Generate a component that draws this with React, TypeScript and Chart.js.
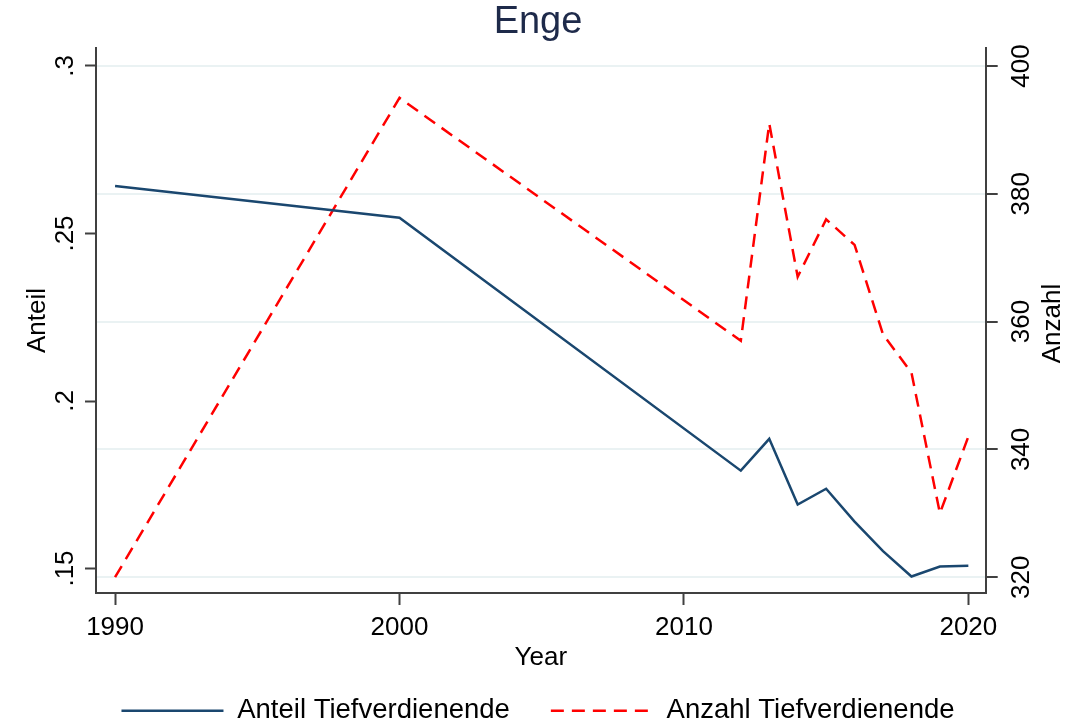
import { useEffect, useRef } from 'react';
import { Chart, registerables } from 'chart.js';

Chart.register(...registerables);

const chartTitle = 'Enge';
const xTitle = 'Year';
const leftTitle = 'Anteil';
const rightTitle = 'Anzahl';
const seriesNames = ['Anteil Tiefverdienende', 'Anzahl Tiefverdienende'];

const years = [1990, 2000, 2012, 2013, 2014, 2015, 2016, 2017, 2018, 2019, 2020];
const anteil = [0.2642, 0.2547, 0.1792, 0.1887, 0.1691, 0.1738, 0.164, 0.1552, 0.1476, 0.1506, 0.1508];
const anzahl = [320, 395, 357, 391, 367, 376, 372, 358, 352, 330, 342];

const xTicks = [1990, 2000, 2010, 2020];
const leftTicks = [0.15, 0.2, 0.25, 0.3];
const leftTickLabels = ['.15', '.2', '.25', '.3'];
const rightTicks = [320, 340, 360, 380, 400];

const FONT = "'Liberation Sans', Arial, sans-serif";
const AXIS = '#404040';

const rightTitlePlugin = {
  id: 'rightTitle',
  afterDraw(chart: any) {
    const { ctx, chartArea } = chart;
    const s = chart.scales.y2;
    ctx.save();
    ctx.translate(s.left + 67, (chartArea.top + chartArea.bottom) / 2 + 3);
    ctx.rotate(-Math.PI / 2);
    ctx.font = `26px ${FONT}`;
    ctx.fillStyle = '#000';
    ctx.textAlign = 'center';
    ctx.textBaseline = 'middle';
    ctx.fillText(rightTitle, 0, 0);
    ctx.restore();
  },
};

export default function App() {
  const ref = useRef<HTMLCanvasElement | null>(null);

  useEffect(() => {
    document.body.style.margin = '0';
    document.body.style.overflow = 'hidden';
    const canvas = ref.current;
    if (!canvas) return;
    const chart = new Chart(canvas, {
      type: 'line',
      data: {
        datasets: [
          {
            label: seriesNames[0],
            data: years.map((x, i) => ({ x, y: anteil[i] })),
            yAxisID: 'y',
            borderColor: '#1a476f',
            backgroundColor: '#1a476f',
            borderWidth: 2.5,
            pointRadius: 0,
            tension: 0,
          },
          {
            label: seriesNames[1],
            data: years.map((x, i) => ({ x, y: anzahl[i] })),
            yAxisID: 'y2',
            borderColor: '#ff0000',
            backgroundColor: '#ff0000',
            borderWidth: 2.5,
            borderDash: [13, 8],
            pointRadius: 0,
            tension: 0,
          },
        ],
      },
      options: {
        animation: false,
        responsive: false,
        devicePixelRatio: 1,
        layout: { padding: { top: 0, left: 0, right: 0, bottom: -9.5 } },
        plugins: {
          title: {
            display: true,
            text: chartTitle,
            color: '#1e2a4a',
            font: { family: FONT, size: 38, weight: 'normal', lineHeight: 1.2 },
            padding: { top: 0, bottom: 2.4 },
          },
          legend: {
            position: 'bottom',
            labels: {
              font: { family: FONT, size: 27.5 },
              color: '#000',
              usePointStyle: true,
              pointStyle: 'line',
              pointStyleWidth: 102,
              padding: 41,
              generateLabels: (c: any) => {
                const items = Chart.defaults.plugins.legend.labels.generateLabels(c);
                return items.map((it: any) => {
                  const ds: any = c.data.datasets[it.datasetIndex];
                  return {
                    ...it,
                    pointStyle: 'line',
                    strokeStyle: ds.borderColor,
                    fillStyle: ds.borderColor,
                    lineWidth: ds.borderWidth,
                    lineDash: ds.borderDash || [],
                    lineCap: 'butt',
                  };
                });
              },
            },
          },
          tooltip: { enabled: false },
        },
        scales: {
          x: {
            type: 'linear',
            min: 1989.33,
            max: 2020.61,
            afterBuildTicks: (s: any) => {
              s.ticks = xTicks.map((value) => ({ value }));
            },
            afterFit: (s: any) => {
              s.height = 63;
            },
            ticks: {
              font: { family: FONT, size: 26 },
              color: '#000',
              padding: 7,
              maxRotation: 0,
              autoSkip: false,
              callback: (v: any) => String(v),
            },
            grid: {
              drawOnChartArea: false,
              tickLength: 12,
              tickColor: AXIS,
              tickWidth: 2,
            },
            border: { display: true, color: AXIS, width: 2 },
            title: {
              display: true,
              text: xTitle,
              color: '#000',
              font: { family: FONT, size: 26, lineHeight: 1.2 },
              padding: { top: 0, bottom: -17 },
            },
          },
          y: {
            type: 'linear',
            position: 'left',
            min: 0.14269,
            max: 0.30537,
            afterBuildTicks: (s: any) => {
              s.ticks = leftTicks.map((value) => ({ value }));
            },
            afterFit: (s: any) => {
              s.width = 96;
            },
            ticks: {
              font: { family: FONT, size: 26 },
              color: '#000',
              minRotation: 90,
              maxRotation: 90,
              crossAlign: 'center',
              padding: 1,
              autoSkip: false,
              callback: (_v: any, i: number) => leftTickLabels[i],
            },
            grid: {
              drawOnChartArea: false,
              tickLength: 11,
              tickColor: AXIS,
              tickWidth: 2,
            },
            border: { display: true, color: AXIS, width: 2 },
            title: {
              display: true,
              text: leftTitle,
              color: '#000',
              font: { family: FONT, size: 26, lineHeight: 1.2 },
              padding: { top: 22, bottom: 0 },
            },
          },
          y2: {
            type: 'linear',
            position: 'right',
            min: 317.53,
            max: 402.81,
            afterBuildTicks: (s: any) => {
              s.ticks = rightTicks.map((value) => ({ value }));
            },
            afterFit: (s: any) => {
              s.width = 90.3;
            },
            ticks: {
              font: { family: FONT, size: 26 },
              color: '#000',
              minRotation: 90,
              maxRotation: 90,
              crossAlign: 'center',
              padding: 2.5,
              autoSkip: false,
              callback: (v: any) => String(v),
            },
            grid: {
              drawOnChartArea: true,
              color: '#eaf2f3',
              lineWidth: 2,
              tickLength: 12,
              tickColor: AXIS,
              tickWidth: 2,
            },
            border: { display: true, color: AXIS, width: 2 },
          },
        },
      },
      plugins: [rightTitlePlugin],
    } as any);
    return () => chart.destroy();
  }, []);

  return (
    <div style={{ width: 1076, height: 725 }}>
      <canvas ref={ref} width={1076} height={725} style={{ display: 'block' }} />
    </div>
  );
}
